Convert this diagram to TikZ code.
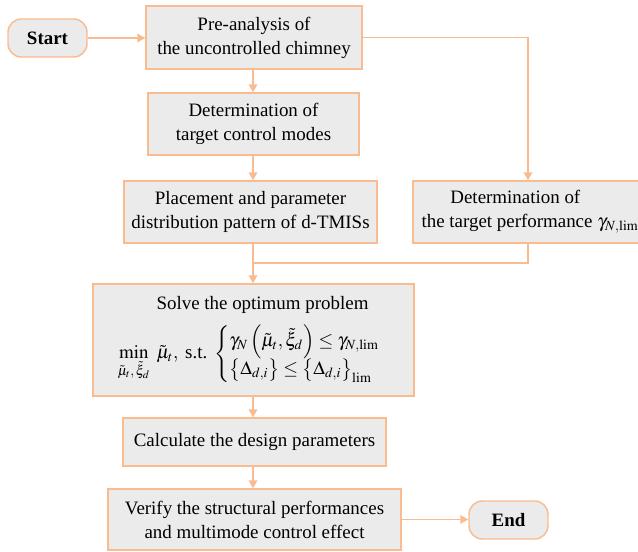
\documentclass[tikz,border=0pt]{standalone}
\usepackage{amsmath}
\usepackage{mathptmx}
\usepackage[no-math]{fontspec}
\setmainfont{Liberation Serif}
\newfontfamily\tnr{Liberation Serif}
\usetikzlibrary{arrows.meta}
\definecolor{edge}{RGB}{249,187,144}
\definecolor{boxfill}{RGB}{235,235,235}
\begin{document}
\begin{tikzpicture}[x=0.75pt,y=-0.75pt,
  box/.style={draw=edge, fill=boxfill, line width=1.1pt, inner sep=0pt, align=center,
    font=\tnr\fontsize{14.2}{18}\selectfont},
  term/.style={box, rounded corners=10pt, font=\tnr\fontsize{14.2}{18}\selectfont\bfseries},
  arr/.style={draw=edge, line width=1.1pt, -{Triangle[length=6pt,width=6.5pt]}},
  ln/.style={draw=edge, line width=1.1pt}]
\useasboundingbox (0,0) rectangle (638,551);
\node[term, minimum width=59.25pt, minimum height=28.5pt] (start) at (47.5,38) {Start};
\node[box, minimum width=162pt, minimum height=47.25pt] (pre) at (254,37.5) {Pre-analysis of\\the uncontrolled chimney};
\node[box, minimum width=158.25pt, minimum height=46.5pt] (modes) at (253.5,124) {Determination of\\target control modes};
\node[box, minimum width=189.75pt, minimum height=46.5pt] (place) at (250.5,212) {Placement and parameter\\distribution pattern of d-TMISs};
\node[box, minimum width=175.5pt, minimum height=46.5pt] (target) at (530,212) {Determination of\hspace*{22pt}\\the target performance $\gamma_{N,\lim}$};
\node[box, minimum width=240.75pt, minimum height=84pt] (solve) at (253.5,340) {\hspace*{13.5pt}Solve the optimum problem\\[7pt]
\hspace*{7.5pt}$\displaystyle \min_{\tilde{\mu}_t,\,\tilde{\xi}_d}\ \tilde{\mu}_t,\ \text{s.t.}\ \begin{cases}\gamma_N\left(\tilde{\mu}_t,\tilde{\xi}_d\right)\le\gamma_{N,\lim}\\[-3pt] \bigl\{\Delta_{d,i}\bigr\}\le\bigl\{\Delta_{d,i}\bigr\}_{\lim}\end{cases}$};
\node[box, minimum width=197.25pt, minimum height=36pt] (calc) at (254.5,442) {Calculate the design parameters};
\node[box, minimum width=219.75pt, minimum height=45.75pt] (verify) at (254.5,519.5) {Verify the structural performances\\and multimode control effect};
\node[term, minimum width=59.25pt, minimum height=28.5pt] (end) at (508.5,520) {End};
\coordinate (ax) at (253,0);
\coordinate (rx) at (528,0);
\coordinate (jn) at (253,263);
\draw[arr] (start.east) -- (start.east -| pre.west);
\draw[arr] (pre.east) -| (target.north -| rx);
\draw[arr] (pre.south -| ax) -- (modes.north -| ax);
\draw[arr] (modes.south -| ax) -- (place.north -| ax);
\draw[ln] (place.south -| ax) -- (jn);
\draw[ln] (target.south -| rx) |- (jn);
\draw[arr] (jn) -- (solve.north -| ax);
\draw[arr] (solve.south -| ax) -- (calc.north -| ax);
\draw[arr] (calc.south -| ax) -- (verify.north -| ax);
\draw[arr] (verify.east) -- (verify.east -| end.west);
\end{tikzpicture}
\end{document}
